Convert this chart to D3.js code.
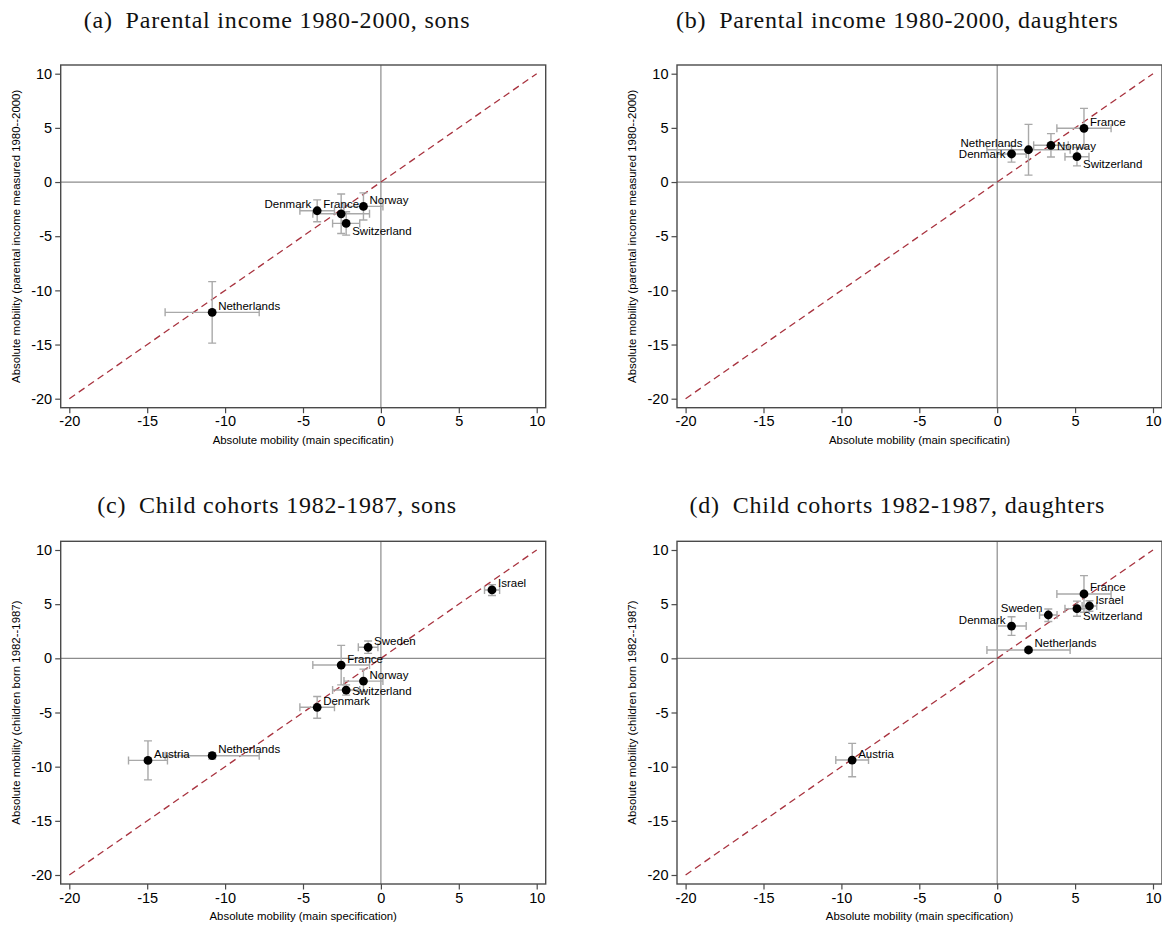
<!DOCTYPE html>
<html>
<head>
<meta charset="utf-8">
<script src="https://cdn.jsdelivr.net/npm/d3@7"></script>
<style>
  body { margin: 0; background: #fff; }
</style>
</head>
<body>
<div id="chart"></div>
<script>
// ---------------- data ----------------
const tickValues = [-20, -15, -10, -5, 0, 5, 10];

// (a) parental income 1980-2000, sons
const aNames   = ["Denmark", "France", "Norway", "Switzerland", "Netherlands"];
const aMain    = [-4.09, -2.55, -1.12, -2.23, -10.83];
const aMainCI  = [[-5.20, -2.98], [-4.37, -0.73], [-2.37, 0.13], [-3.10, -1.36], [-13.85, -7.81]];
const aAlt     = [-2.65, -2.93, -2.25, -3.82, -12.03];
const aAltCI   = [[-3.67, -1.65], [-4.75, -1.11], [-3.50, -1.00], [-4.90, -2.74], [-14.87, -9.19]];
const aClock   = [10, 12, 2, 4, 2];

// (b) parental income 1980-2000, daughters
const bNames   = ["Netherlands", "Denmark", "Norway", "France", "Switzerland"];
const bMain    = [2.01, 0.92, 3.45, 5.57, 5.12];
const bMainCI  = [[-0.66, 4.68], [-0.02, 1.86], [2.34, 4.56], [3.83, 7.31], [4.35, 5.89]];
const bAlt     = [2.98, 2.59, 3.39, 4.96, 2.34];
const bAltCI   = [[0.64, 5.32], [1.84, 3.34], [2.31, 4.47], [3.12, 6.80], [1.49, 3.19]];
const bClock   = [10, 9, 3, 2, 4];

// (c) child cohorts 1982-1987, sons
const cNames   = ["Israel", "Sweden", "France", "Norway", "Switzerland", "Denmark", "Netherlands", "Austria"];
const cMain    = [7.13, -0.82, -2.55, -1.12, -2.23, -4.09, -10.83, -14.95];
const cMainCI  = [[6.65, 7.62], [-1.45, -0.19], [-4.37, -0.73], [-2.37, 0.13], [-3.10, -1.36], [-5.20, -2.98], [-13.85, -7.81], [-16.20, -13.70]];
const cAlt     = [6.31, 1.02, -0.62, -2.10, -2.93, -4.52, -8.99, -9.42];
const cAltCI   = [[5.80, 6.80], [0.46, 1.60], [-2.45, 1.20], [-3.05, -1.00], [-3.40, -2.45], [-5.53, -3.52], [-9.30, -8.70], [-11.22, -7.62]];
const cClock   = [2, 2, 2, 2, 3, 2, 2, 2];

// (d) child cohorts 1982-1987, daughters
const dNames   = ["Austria", "Netherlands", "Denmark", "Sweden", "France", "Israel", "Switzerland"];
const dMain    = [-9.31, 2.01, 0.92, 3.28, 5.57, 5.92, 5.12];
const dMainCI  = [[-10.36, -8.26], [-0.66, 4.68], [-0.02, 1.86], [2.72, 3.84], [3.83, 7.31], [5.45, 6.39], [4.35, 5.89]];
const dAlt     = [-9.39, 0.77, 2.98, 4.00, 5.94, 4.83, 4.58];
const dAltCI   = [[-10.93, -7.85], [0.55, 0.99], [2.12, 3.84], [3.40, 4.55], [4.25, 7.63], [4.35, 5.31], [3.88, 5.28]];
const dClock   = [2, 2, 10, 10, 2, 2, 4];

const titles = [
  "(a)\u2002Parental income 1980-2000, sons",
  "(b)\u2002Parental income 1980-2000, daughters",
  "(c)\u2002Child cohorts 1982-1987, sons",
  "(d)\u2002Child cohorts 1982-1987, daughters"
];
const xLabels = [
  "Absolute mobility (main specificatin)",
  "Absolute mobility (main specificatin)",
  "Absolute mobility (main specification)",
  "Absolute mobility (main specification)"
];
const yLabels = [
  "Absolute mobility (parental income measured 1980--2000)",
  "Absolute mobility (parental income measured 1980--2000)",
  "Absolute mobility (children born 1982--1987)",
  "Absolute mobility (children born 1982--1987)"
];

// ---------------- layout / style ----------------
const totalWidth = 1162, totalHeight = 925;
const panelDX = 616.3, panelDY = 476.3;
const box = { left: 60.7, right: 545.7, top: 65, bottom: 407.7 };
const color = {
  frame: '#4a4a4a',
  ref: '#8c8c8c',
  diag: '#a8323e',
  ci: '#a9a9a9',
  dot: '#000'
};
const sans = "'Liberation Sans', Arial, Helvetica, sans-serif";
const serif = "'Liberation Serif', 'Times New Roman', serif";

// label offsets by clock position: [dx, dy (to text centre), anchor]
const clockPos = {
  2:  [6, -6.5, 'start'],
  3:  [6, 0.5, 'start'],
  4:  [6, 7.5, 'start'],
  9:  [-6, 0.5, 'end'],
  10: [-6, -6.5, 'end'],
  12: [0, -10, 'middle']
};

const panels = [
  { col: 0, row: 0, names: aNames, x: aMain, xci: aMainCI, y: aAlt, yci: aAltCI, clock: aClock },
  { col: 1, row: 0, names: bNames, x: bMain, xci: bMainCI, y: bAlt, yci: bAltCI, clock: bClock },
  { col: 0, row: 1, names: cNames, x: cMain, xci: cMainCI, y: cAlt, yci: cAltCI, clock: cClock },
  { col: 1, row: 1, names: dNames, x: dMain, xci: dMainCI, y: dAlt, yci: dAltCI, clock: dClock }
];

const svg = d3.select('#chart').append('svg')
  .attr('width', totalWidth)
  .attr('height', totalHeight)
  .style('background', '#fff');

panels.forEach((p, i) => drawPanel(p, i));

function drawPanel(p, i){
  const g = svg.append('g')
    .attr('transform', 'translate(' + (p.col * panelDX) + ',' + (p.row * panelDY) + ')');

  const xScale = d3.scaleLinear().domain([-20, 10]).range([69.3, 536.7]);
  const yScale = d3.scaleLinear().domain([-20, 10]).range([398.7, 73.7]);

  // title
  g.append('text')
    .attr('x', 277 + p.col * 4)
    .attr('y', p.row ? 28.5 : 20)
    .attr('text-anchor', 'middle')
    .attr('dominant-baseline', 'central')
    .style('font-family', serif)
    .style('font-size', '24px')
    .style('letter-spacing', '0.8px')
    .style('fill', '#111')
    .text(titles[i]);

  // reference lines at zero
  g.append('line')
    .attr('x1', xScale(0)).attr('x2', xScale(0))
    .attr('y1', box.top).attr('y2', box.bottom)
    .style('stroke', color.ref).style('stroke-width', 1.2);
  g.append('line')
    .attr('x1', box.left).attr('x2', box.right)
    .attr('y1', yScale(0)).attr('y2', yScale(0))
    .style('stroke', color.ref).style('stroke-width', 1.2);

  // 45 degree line
  g.append('line')
    .attr('x1', xScale(-20)).attr('y1', yScale(-20))
    .attr('x2', xScale(10)).attr('y2', yScale(10))
    .style('stroke', color.diag)
    .style('stroke-width', 1.3)
    .style('stroke-dasharray', '7,4.5');

  // axes
  const xAxis = d3.axisBottom(xScale).tickValues(tickValues).tickSize(5.5).tickPadding(3)
    .tickFormat(d => String(d));
  const yAxis = d3.axisLeft(yScale).tickValues(tickValues).tickSize(5.5).tickPadding(3)
    .tickFormat(d => String(d));

  const xAxisView = g.append('g')
    .attr('transform', 'translate(0,' + box.bottom + ')')
    .call(xAxis);
  const yAxisView = g.append('g')
    .attr('transform', 'translate(' + box.left + ',0)')
    .call(yAxis);
  [xAxisView, yAxisView].forEach(a => {
    a.select('.domain').remove();
    a.selectAll('line').style('stroke', color.frame).style('stroke-width', 1.2);
    a.selectAll('text')
      .style('font-family', sans)
      .style('font-size', '14.5px')
      .style('fill', '#000');
  });

  // frame
  g.append('rect')
    .attr('x', box.left).attr('y', box.top)
    .attr('width', box.right - box.left)
    .attr('height', box.bottom - box.top)
    .style('fill', 'none')
    .style('stroke', color.frame)
    .style('stroke-width', 1.4);

  // axis titles
  g.append('text')
    .attr('x', (box.left + box.right) / 2)
    .attr('y', 439.5)
    .attr('text-anchor', 'middle')
    .attr('dominant-baseline', 'central')
    .style('font-family', sans)
    .style('font-size', '11.4px')
    .text(xLabels[i]);
  g.append('text')
    .attr('transform', 'translate(16,' + ((box.top + box.bottom) / 2) + ') rotate(-90)')
    .attr('text-anchor', 'middle')
    .attr('dominant-baseline', 'central')
    .style('font-family', sans)
    .style('font-size', '11.4px')
    .text(yLabels[i]);

  const idx = p.names.map((d, k) => k);
  const cap = 4;

  // confidence intervals
  const ci = g.append('g')
    .style('stroke', color.ci)
    .style('stroke-width', 1.4)
    .style('fill', 'none');
  idx.forEach(k => {
    const cx = xScale(p.x[k]), cy = yScale(p.y[k]);
    const x0 = xScale(p.xci[k][0]), x1 = xScale(p.xci[k][1]);
    const y0 = yScale(p.yci[k][0]), y1 = yScale(p.yci[k][1]);
    ci.append('path').attr('d',
      'M' + x0 + ',' + cy + 'H' + x1 +
      'M' + x0 + ',' + (cy - cap) + 'V' + (cy + cap) +
      'M' + x1 + ',' + (cy - cap) + 'V' + (cy + cap));
    ci.append('path').attr('d',
      'M' + cx + ',' + y0 + 'V' + y1 +
      'M' + (cx - cap) + ',' + y0 + 'H' + (cx + cap) +
      'M' + (cx - cap) + ',' + y1 + 'H' + (cx + cap));
  });

  // points
  g.append('g').selectAll('circle')
    .data(idx)
    .enter()
    .append('circle')
    .attr('cx', k => xScale(p.x[k]))
    .attr('cy', k => yScale(p.y[k]))
    .attr('r', 4.4)
    .style('fill', color.dot);

  // labels
  g.append('g').selectAll('text')
    .data(idx)
    .enter()
    .append('text')
    .attr('x', k => xScale(p.x[k]) + clockPos[p.clock[k]][0])
    .attr('y', k => yScale(p.y[k]) + clockPos[p.clock[k]][1])
    .attr('text-anchor', k => clockPos[p.clock[k]][2])
    .attr('dominant-baseline', 'central')
    .style('font-family', sans)
    .style('font-size', '11.5px')
    .style('fill', '#000')
    .text(k => p.names[k]);
}
</script>
</body>
</html>
